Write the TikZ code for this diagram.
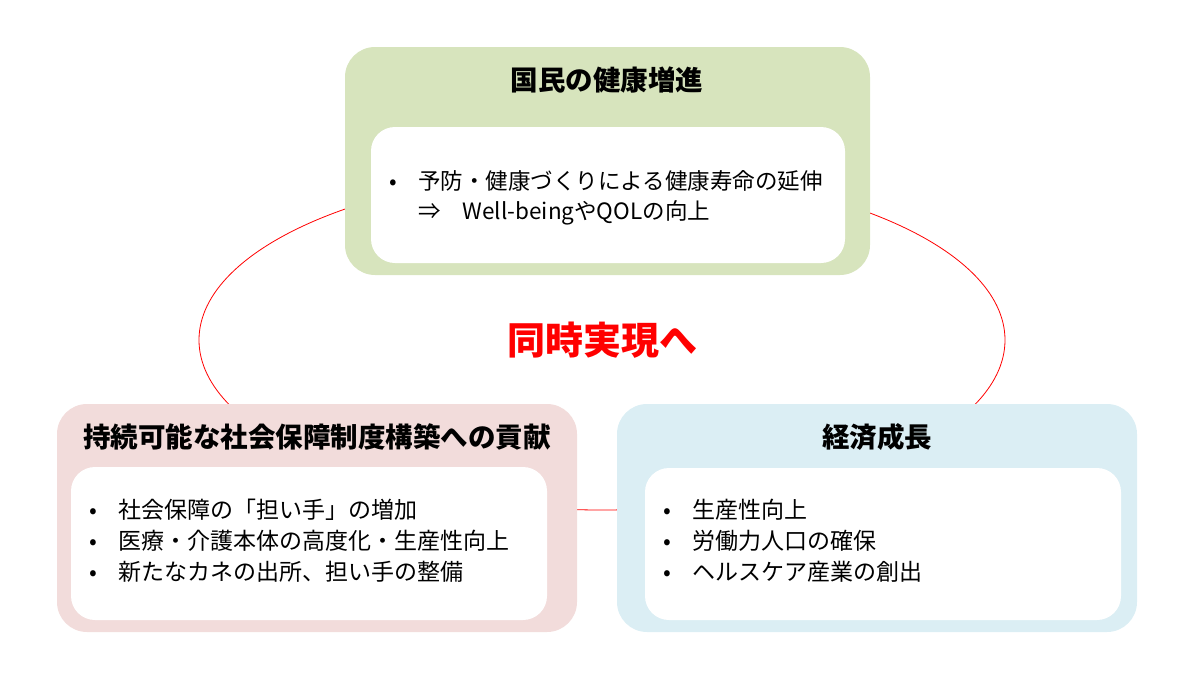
\documentclass[tikz,border=0pt]{standalone}
\usepackage{fontspec}
\setmainfont{Noto Sans CJK JP}
\usetikzlibrary{shapes.geometric}
\definecolor{healthgreen}{HTML}{D7E4BD}
\definecolor{carepink}{HTML}{F2DCDB}
\definecolor{econblue}{HTML}{DBEEF4}
\definecolor{cyclered}{HTML}{FF0000}
\newcommand{\bulletmark}{\makebox[29pt][l]{•}}
\tikzset{
  outerbox/.style={rounded corners=30pt, inner sep=0pt},
  innerbox/.style={fill=white, rounded corners=24pt, inner sep=0pt},
  boxtitle/.style={font=\fontsize{27.5}{32}\selectfont\bfseries, inner sep=0pt},
  itemtext/.style={font=\fontsize{23}{31}\selectfont, inner sep=0pt, anchor=west}
}
\begin{document}
\begin{tikzpicture}[x=1pt,y=-1pt]
\useasboundingbox (0,0) rectangle (1200,675);
\node[draw=cyclered, line width=0.8pt, ellipse, minimum width=806pt, minimum height=340pt] (cycle) at (602,340) {};
\node[font=\fontsize{38}{44}\selectfont\bfseries, text=cyclered] (goal) at (cycle.center) {同時実現へ};

\node[outerbox, fill=healthgreen, minimum width=525pt, minimum height=228pt] (health) at (607.5,161) {};
\node[innerbox, minimum width=474pt, minimum height=136pt] (healthin) at (608,195) {};
\node[boxtitle] (healthttl) at (607,80) {国民の健康増進};
\node[itemtext, font=\fontsize{22.5}{30}\selectfont] (healthtxt) at (389,198) {\begin{tabular}{@{}l@{}}
\bulletmark 予防・健康づくりによる健康寿命の延伸\\
\hspace{29pt}⇒\hspace{22pt}Well-beingやQOLの向上
\end{tabular}};

\node[outerbox, fill=carepink, minimum width=520pt, minimum height=228pt] (care) at (317,518) {};
\node[innerbox, minimum width=476pt, minimum height=153pt] (carein) at (309,543.5) {};
\node[boxtitle] (carettl) at (317,437) {持続可能な社会保障制度構築への貢献};
\node[itemtext] (caretxt) at (89,543) {\begin{tabular}{@{}l@{}}
\bulletmark 社会保障の「担い手」の増加\\
\bulletmark 医療・介護本体の高度化・生産性向上\\
\bulletmark 新たなカネの出所、担い手の整備
\end{tabular}};

\node[outerbox, fill=econblue, minimum width=520pt, minimum height=228pt] (econ) at (877,518) {};
\node[innerbox, minimum width=476pt, minimum height=152pt] (econin) at (883,544) {};
\node[boxtitle] (econttl) at (877,437) {経済成長};
\node[itemtext] (econtxt) at (663,543) {\begin{tabular}{@{}l@{}}
\bulletmark 生産性向上\\
\bulletmark 労働力人口の確保\\
\bulletmark ヘルスケア産業の創出
\end{tabular}};
\end{tikzpicture}
\end{document}
